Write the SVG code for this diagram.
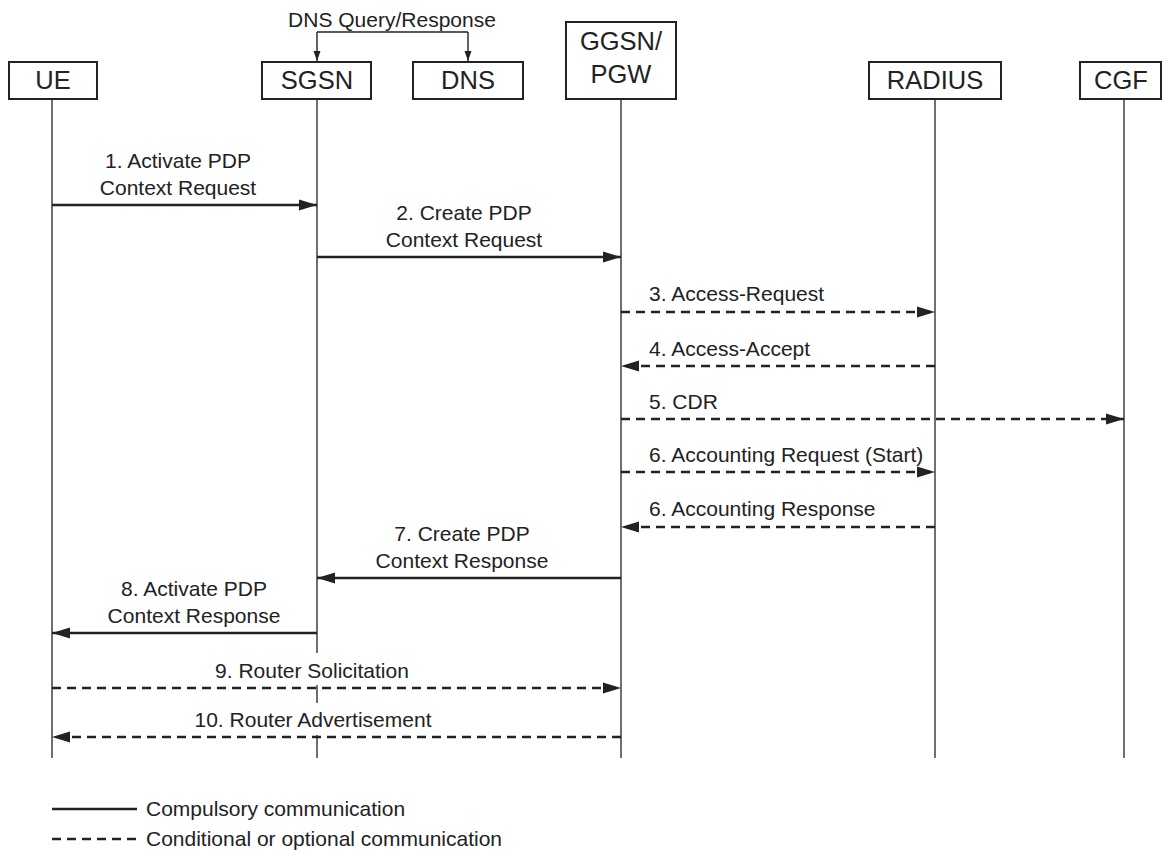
<svg xmlns="http://www.w3.org/2000/svg" width="1163" height="853" viewBox="0 0 1163 853">
<style>
.box{fill:#fff;stroke:#222;stroke-width:2}
.life{stroke:#333;stroke-width:1.4;fill:none}
.nt{font-family:"Liberation Sans",Arial,sans-serif;font-size:25.5px;fill:#222;text-anchor:middle}
.lb{font-family:"Liberation Sans",Arial,sans-serif;font-size:21px;fill:#222}
.c{text-anchor:middle}
.msg{stroke:#222;stroke-width:2.6;fill:none}
.dash{stroke-dasharray:9 6}
.thin{stroke:#222;stroke-width:1.4;fill:none}
</style>
<defs>
<marker id="ah" markerUnits="userSpaceOnUse" markerWidth="20" markerHeight="12" refX="18" refY="6" orient="auto">
<path d="M0,0.5 L18,6 L0,11.5 Z" fill="#222"/>
</marker>
<marker id="sh" markerUnits="userSpaceOnUse" markerWidth="12" markerHeight="8" refX="10" refY="3.5" orient="auto">
<path d="M0,0 L10,3.5 L0,7 Z" fill="#222"/>
</marker>
</defs>
<rect width="1163" height="853" fill="#fff"/>
<g id="UE">
<line class="life" x1="52" y1="99" x2="52" y2="758"/>
<rect class="box" x="9" y="62" width="88" height="37"/>
<text class="nt" x="53" y="89">UE</text>
</g>
<g id="SGSN">
<line class="life" x1="317" y1="99" x2="317" y2="758"/>
<rect class="box" x="262" y="62" width="109" height="37"/>
<text class="nt" x="317" y="89">SGSN</text>
</g>
<g id="DNS">
<rect class="box" x="413" y="62" width="110" height="37"/>
<text class="nt" x="468" y="89">DNS</text>
</g>
<g id="GGSN_PGW">
<line class="life" x1="621" y1="99" x2="621" y2="758"/>
<rect class="box" x="566" y="22" width="110" height="77"/>
<text class="nt" x="621" y="50">GGSN/</text>
<text class="nt" x="621" y="83">PGW</text>
</g>
<g id="RADIUS">
<line class="life" x1="935" y1="99" x2="935" y2="758"/>
<rect class="box" x="869" y="62" width="132" height="37"/>
<text class="nt" x="935" y="89">RADIUS</text>
</g>
<g id="CGF">
<line class="life" x1="1124" y1="99" x2="1124" y2="758"/>
<rect class="box" x="1080" y="62" width="81" height="37"/>
<text class="nt" x="1121" y="89">CGF</text>
</g>
<g id="connectors">
<path class="thin" d="M317,32 H468"/>
<path class="thin" d="M317,32 V61" marker-end="url(#sh)"/>
<path class="thin" d="M468,32 V61" marker-end="url(#sh)"/>
<text class="lb c" x="392" y="27">DNS Query/Response</text>

<line class="msg" x1="52" y1="205" x2="317" y2="205" marker-end="url(#ah)"/>
<text class="lb c" x="178" y="168">1. Activate PDP</text>
<text class="lb c" x="178" y="195">Context Request</text>

<line class="msg" x1="317" y1="257" x2="621" y2="257" marker-end="url(#ah)"/>
<text class="lb c" x="464" y="220">2. Create PDP</text>
<text class="lb c" x="464" y="247">Context Request</text>

<line class="msg dash" x1="621" y1="312" x2="935" y2="312" marker-end="url(#ah)"/>
<text class="lb" x="649" y="301">3. Access-Request</text>

<line class="msg dash" x1="935" y1="366" x2="621" y2="366" marker-end="url(#ah)"/>
<text class="lb" x="649" y="356">4. Access-Accept</text>

<line class="msg dash" x1="621" y1="419" x2="1124" y2="419" marker-end="url(#ah)"/>
<text class="lb" x="649" y="409">5. CDR</text>

<line class="msg dash" x1="621" y1="472" x2="935" y2="472" marker-end="url(#ah)"/>
<text class="lb" x="649" y="462">6. Accounting Request (Start)</text>

<line class="msg dash" x1="935" y1="527" x2="621" y2="527" marker-end="url(#ah)"/>
<text class="lb" x="649" y="516">6. Accounting Response</text>

<line class="msg" x1="621" y1="578" x2="317" y2="578" marker-end="url(#ah)"/>
<text class="lb c" x="462" y="541">7. Create PDP</text>
<text class="lb c" x="462" y="568">Context Response</text>

<line class="msg" x1="317" y1="633" x2="52" y2="633" marker-end="url(#ah)"/>
<text class="lb c" x="194" y="596">8. Activate PDP</text>
<text class="lb c" x="194" y="623">Context Response</text>

<rect x="200" y="653" width="225" height="32" fill="#fff"/>
<line class="msg dash" x1="52" y1="688" x2="621" y2="688" marker-end="url(#ah)"/>
<text class="lb c" x="312" y="678">9. Router Solicitation</text>

<rect x="180" y="703" width="265" height="32" fill="#fff"/>
<line class="msg dash" x1="621" y1="737" x2="52" y2="737" marker-end="url(#ah)"/>
<text class="lb c" x="313" y="727">10. Router Advertisement</text>
</g>
<g id="legend">
<line class="msg" x1="52" y1="809" x2="137" y2="809" stroke-width="2"/>
<text class="lb" x="146" y="816">Compulsory communication</text>
<line class="msg dash" x1="52" y1="839" x2="137" y2="839" stroke-width="2"/>
<text class="lb" x="146" y="846">Conditional or optional communication</text>
</g>
</svg>
